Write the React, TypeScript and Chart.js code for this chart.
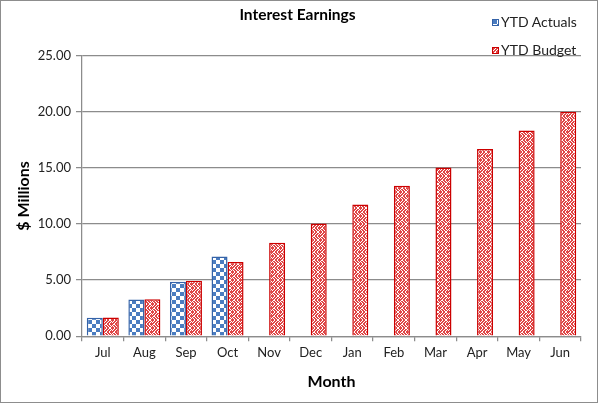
import { useEffect, useRef } from 'react'
import { Chart, registerables } from 'chart.js'

Chart.register(...registerables)

// ─── Data ───────────────────────────────────────────────────────────────────

const MONTHS = ['Jul', 'Aug', 'Sep', 'Oct', 'Nov', 'Dec', 'Jan', 'Feb', 'Mar', 'Apr', 'May', 'Jun']
const YTD_ACTUALS = [1.65, 3.26, 4.85, 7.1, null, null, null, null, null, null, null, null]
const YTD_BUDGET = [1.66, 3.3, 4.95, 6.62, 8.33, 10.05, 11.73, 13.4, 15.03, 16.68, 18.33, 20.0]
const Y_TICKS = [0, 5, 10, 15, 20, 25]

// ─── Style ──────────────────────────────────────────────────────────────────

const FONT = 'Lato, "Open Sans", sans-serif'
const GRID = '#8c8c8c'
const BLUE = '#4a7cc0'
const BLUE_EDGE = '#3563a8'
const RED = '#e04646'
const RED_EDGE = '#cc0000'

// pattern tiles, 1 = coloured pixel
const CHECKER = [
  '11110000', '11110000', '11110000', '11110000',
  '00001111', '00001111', '00001111', '00001111',
]
const WEAVE = [
  '11011001', '10110110', '01101101', '11011011',
  '10011011', '01101101', '10110110', '11011001',
]

function makeTile(rows: string[], color: string): HTMLCanvasElement {
  const w = rows[0].length
  const h = rows.length
  const c = document.createElement('canvas')
  c.width = w
  c.height = h
  const ctx = c.getContext('2d')!
  ctx.fillStyle = '#ffffff'
  ctx.fillRect(0, 0, w, h)
  ctx.fillStyle = color
  rows.forEach((row, y) => {
    for (let x = 0; x < w; x++) if (row[x] === '1') ctx.fillRect(x, y, 1, 1)
  })
  return c
}

// ─── Component ──────────────────────────────────────────────────────────────

export default function App() {
  const canvasRef = useRef<HTMLCanvasElement>(null)
  const blueTile = useRef<string>('')
  const redTile = useRef<string>('')

  if (!blueTile.current && typeof document !== 'undefined') {
    blueTile.current = makeTile(CHECKER, BLUE).toDataURL()
    redTile.current = makeTile(WEAVE, RED).toDataURL()
  }

  useEffect(() => {
    const canvas = canvasRef.current
    if (!canvas) return
    const ctx = canvas.getContext('2d')!
    const bluePattern = ctx.createPattern(makeTile(CHECKER, BLUE), 'repeat')!
    const redPattern = ctx.createPattern(makeTile(WEAVE, RED), 'repeat')!

    const chart = new Chart(ctx, {
      type: 'bar',
      data: {
        labels: MONTHS,
        datasets: [
          {
            label: 'YTD Actuals',
            data: YTD_ACTUALS,
            backgroundColor: bluePattern,
            borderColor: BLUE_EDGE,
            borderWidth: 1.5,
            categoryPercentage: 0.77,
            barPercentage: 1.0,
          },
          {
            label: 'YTD Budget',
            data: YTD_BUDGET,
            backgroundColor: redPattern,
            borderColor: RED_EDGE,
            borderWidth: 1.5,
            categoryPercentage: 0.77,
            barPercentage: 1.0,
          },
        ],
      },
      options: {
        animation: false,
        responsive: true,
        maintainAspectRatio: false,
        layout: { padding: { left: 14, right: 17, top: 0, bottom: 12 } },
        plugins: {
          legend: { display: false },
          tooltip: { enabled: false },
          title: {
            display: true,
            text: 'Interest Earnings',
            color: '#000',
            font: { family: FONT, size: 15.5, weight: 'bold' },
            padding: { top: 6, bottom: 31 },
          },
        },
        scales: {
          x: {
            grid: { offset: true, drawOnChartArea: false, drawTicks: true, tickLength: 5, color: GRID, lineWidth: 1.25 },
            border: { color: GRID, width: 1.25 },
            ticks: { color: '#222', font: { family: FONT, size: 13 }, padding: 4, maxRotation: 0 },
            title: {
              display: true,
              text: 'Month',
              color: '#000',
              font: { family: FONT, size: 16, weight: 'bold' },
              padding: { top: 7, bottom: 0 },
            },
          },
          y: {
            min: 0,
            max: 25,
            afterBuildTicks: (scale) => {
              scale.ticks = Y_TICKS.map((v) => ({ value: v }))
            },
            afterFit: (scale) => {
              scale.width = 68
            },
            grid: { color: GRID, lineWidth: 1.25, tickLength: 6 },
            border: { color: GRID, width: 1.25 },
            ticks: {
              color: '#222',
              font: { family: FONT, size: 13 },
              padding: 5,
              callback: (v) => Number(v).toFixed(2),
            },
            title: {
              display: true,
              text: '$ Millions',
              color: '#000',
              font: { family: FONT, size: 16, weight: 'bold' },
              padding: { top: 0, bottom: 0 },
            },
          },
        },
      },
    })

    return () => {
      chart.destroy()
    }
  }, [])

  const legendRow = (label: string, tile: string, edge: string, top: number) => (
    <div style={{ position: 'absolute', left: 492, top, display: 'flex', alignItems: 'center', gap: 2 }}>
      <span
        style={{
          width: 7,
          height: 7,
          boxSizing: 'border-box',
          border: `1px solid ${edge}`,
          backgroundImage: `url(${tile})`,
        }}
      />
      <span style={{ fontFamily: FONT, fontSize: 14, color: '#222', lineHeight: '16px' }}>{label}</span>
    </div>
  )

  return (
    <div style={{ position: 'fixed', left: 0, top: 0, width: 598, height: 403, background: '#fff' }}>
      <canvas ref={canvasRef} style={{ display: 'block', width: '100%', height: '100%' }} />
      {legendRow('YTD Actuals', blueTile.current, BLUE_EDGE, 14)}
      {legendRow('YTD Budget', redTile.current, RED_EDGE, 42)}
      <div
        style={{
          position: 'absolute',
          inset: 0,
          border: '1.5px solid #8d8d8d',
          pointerEvents: 'none',
        }}
      />
    </div>
  )
}
